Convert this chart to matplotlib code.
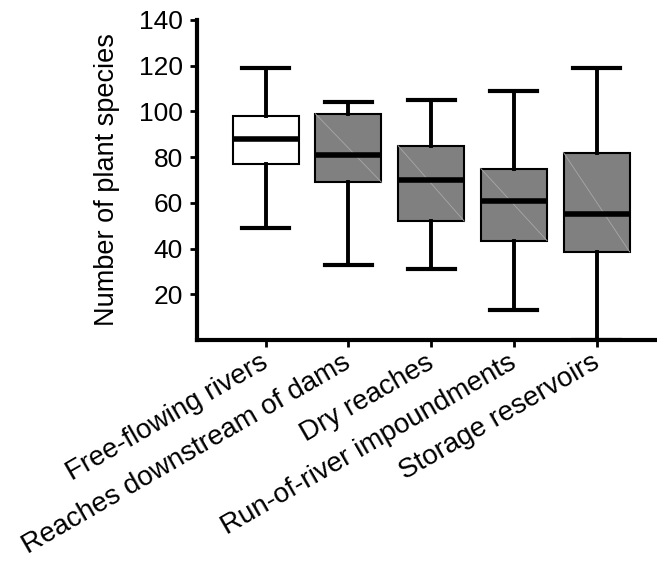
import matplotlib
matplotlib.use("Agg")
import matplotlib.pyplot as plt
from matplotlib.transforms import ScaledTranslation

plt.rcParams['font.family'] = ['Liberation Sans', 'DejaVu Sans']

categories = ["Free-flowing rivers", "Reaches downstream of dams", "Dry reaches",
              "Run-of-river impoundments", "Storage reservoirs"]
whislo = [49, 33, 31, 13, 0]
q1 = [77, 69, 52, 43.5, 38.5]
med = [88, 81, 70, 61, 55]
q3 = [98, 99, 85, 75, 82]
whishi = [119, 104, 105, 109, 119]
fills = ["white", "#808080", "#808080", "#808080", "#808080"]
yticks = [20, 40, 60, 80, 100, 120, 140]

fig = plt.figure(figsize=(6.57, 5.70), dpi=100)
ax = fig.add_axes([0.2998, 0.4035, 0.7002, 0.5615])

stats = []
for i, c in enumerate(categories):
    stats.append(dict(label=c, whislo=whislo[i], q1=q1[i], med=med[i],
                      q3=q3[i], whishi=whishi[i], fliers=[]))

positions = list(range(1, len(categories) + 1))
width = 0.8
bp = ax.bxp(stats, positions=positions, widths=width, patch_artist=True,
            showfliers=False,
            boxprops=dict(linewidth=1.5, edgecolor='black'),
            medianprops=dict(color='black', linewidth=4, zorder=4),
            whiskerprops=dict(color='black', linewidth=2.8),
            capprops=dict(color='black', linewidth=3),
            capwidths=0.57)
for i, (patch, f) in enumerate(zip(bp['boxes'], fills)):
    patch.set_facecolor(f)
    if f != "white":
        p = positions[i]
        ax.plot([p - width / 2, p + width / 2], [q3[i], q1[i]],
                color='#a8a8a8', linewidth=0.6, zorder=3)

ax.set_xlim(0.17, 5.73)
ax.set_ylim(0, 140)
ax.set_yticks(yticks)
ax.set_yticklabels([str(v) for v in yticks], fontsize=19)
ax.set_xticks(positions)
ax.set_xticklabels(categories, fontsize=20, rotation=30, ha='right',
                   rotation_mode='anchor')
ax.set_ylabel("Number of plant species", fontsize=19.5, labelpad=14)

for s in ['top', 'right']:
    ax.spines[s].set_visible(False)
for s in ['left', 'bottom']:
    ax.spines[s].set_linewidth(3)
ax.tick_params(axis='both', direction='out', length=5, width=2, pad=5)
ax.tick_params(axis='x', pad=2)

offset = ScaledTranslation(-6 / 100, 0, fig.dpi_scale_trans)
for lab in ax.get_xticklabels():
    lab.set_transform(lab.get_transform() + offset)

fig.savefig("out.png", dpi=100)
